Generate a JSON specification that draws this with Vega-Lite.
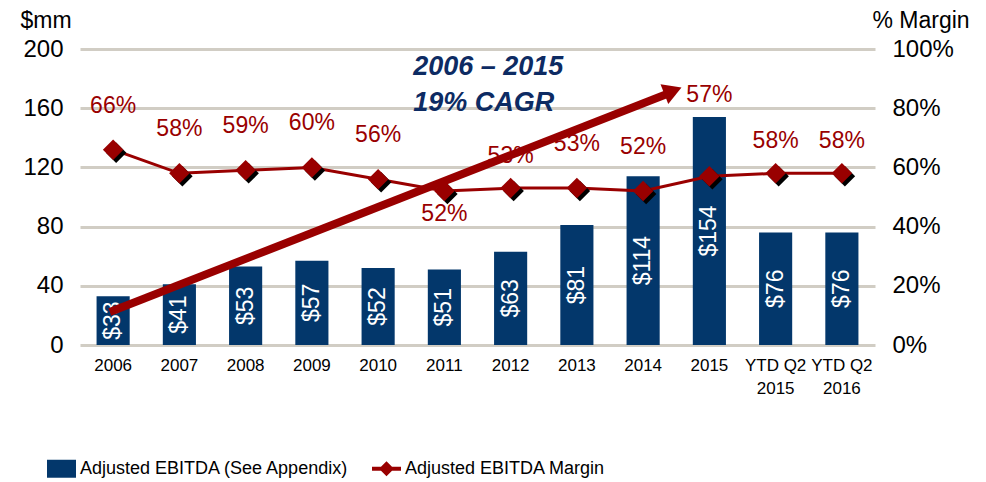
{
  "$schema": "https://vega.github.io/schema/vega-lite/v6.json",
  "width": 795,
  "height": 296,
  "autosize": {"type": "none"},
  "padding": {"left": 80, "top": 49, "right": 111, "bottom": 137},
  "background": "white",
  "config": {"view": {"stroke": null}, "font": "Liberation Sans"},
  "datasets": {
    "main": [
      {"cat": "2006", "ebitda": 33, "margin": 0.66},
      {"cat": "2007", "ebitda": 41, "margin": 0.58},
      {"cat": "2008", "ebitda": 53, "margin": 0.59},
      {"cat": "2009", "ebitda": 57, "margin": 0.60},
      {"cat": "2010", "ebitda": 52, "margin": 0.56},
      {"cat": "2011", "ebitda": 51, "margin": 0.52},
      {"cat": "2012", "ebitda": 63, "margin": 0.53},
      {"cat": "2013", "ebitda": 81, "margin": 0.53},
      {"cat": "2014", "ebitda": 114, "margin": 0.52},
      {"cat": "2015", "ebitda": 154, "margin": 0.57},
      {"cat": "YTD Q2 2015", "ebitda": 76, "margin": 0.58},
      {"cat": "YTD Q2 2016", "ebitda": 76, "margin": 0.58}
    ],
    "arrow": [
      {"ax": -0.05, "ay": 22.3},
      {"ax": 8.36, "ay": 169.6}
    ],
    "head": [
      {"ax": 8.45, "ay": 171.8}
    ],
    "cagr": [
      {"ax": 4.53, "ay": 188, "t": "2006 – 2015"},
      {"ax": 4.53, "ay": 163.5, "t": "19% CAGR"}
    ]
  },
  "layer": [
    {
      "data": {"name": "main"},
      "encoding": {
        "x": {
          "field": "cat", "type": "nominal", "sort": null,
          "scale": {"paddingInner": 0.5, "paddingOuter": 0.25},
          "axis": {
            "title": null, "domain": false, "ticks": false, "labelAngle": 0,
            "labelFontSize": 17, "labelColor": "#000000", "labelPadding": 12,
            "labelLineHeight": 23, "labelFont": "Liberation Sans",
            "labelExpr": "length(datum.value) > 4 ? ['YTD Q2', substring(datum.value, 7)] : datum.value"
          }
        }
      },
      "layer": [
        {
          "mark": {"type": "bar"},
          "encoding": {
            "y": {
              "field": "ebitda", "type": "quantitative",
              "scale": {"domain": [0, 200], "nice": false},
              "axis": {
                "orient": "left", "values": [0, 40, 80, 120, 160, 200],
                "grid": true, "gridColor": "#D1CDC4", "gridWidth": 3,
                "domain": false, "ticks": false, "labelFontSize": 24, "labelColor": "#000000",
                "labelPadding": 17, "title": "$mm", "titleAngle": 0, "titleX": -60, "titleY": -22,
                "titleAlign": "left", "titleBaseline": "alphabetic", "titleFontSize": 23,
                "titleFontWeight": "normal", "titleColor": "#000000"
              }
            },
            "color": {
              "datum": "Adjusted EBITDA (See Appendix)", "type": "nominal",
              "scale": {"domain": ["Adjusted EBITDA (See Appendix)", "Adjusted EBITDA Margin"], "range": ["#03376B", "#990000"]},
              "legend": {
                "title": null, "orient": "none", "legendX": -33, "legendY": 405,
                "direction": "horizontal", "symbolSize": 841, "symbolStrokeWidth": 0,
                "symbolOpacity": 1,
                "labelFont": "Liberation Sans", "labelFontSize": 18, "labelColor": "#000000",
                "labelOffset": 4, "columnPadding": 22, "labelLimit": 400, "padding": 0,
                "encode": {
                  "symbols": {
                    "update": {
                      "shape": {"signal": "datum.value == 'Adjusted EBITDA Margin' ? 'M-1,-0.14L-0.38,-0.14L0,-0.52L0.38,-0.14L1,-0.14L1,0.14L0.38,0.14L0,0.52L-0.38,0.14L-1,0.14Z' : 'M-1,-0.62L1,-0.62L1,0.62L-1,0.62Z'"}
                    }
                  }
                }
              }
            }
          }
        },
        {
          "mark": {"type": "text", "angle": 270, "color": "#FFFFFF", "fontSize": 23, "align": "center", "baseline": "middle"},
          "encoding": {
            "y": {"field": "ebitda", "type": "quantitative", "scale": {"domain": [0, 400], "nice": false}, "axis": null},
            "text": {"field": "ebitda", "type": "quantitative", "format": "$.0f"}
          }
        },
        {
          "mark": {"type": "line", "color": "#990000", "strokeWidth": 3},
          "encoding": {
            "y": {
              "field": "margin", "type": "quantitative",
              "scale": {"domain": [0, 1], "nice": false},
              "axis": {
                "orient": "right", "values": [0, 0.2, 0.4, 0.6, 0.8, 1], "format": ".0%",
                "grid": false, "domain": false, "ticks": false, "labelFontSize": 24, "labelColor": "#000000",
                "labelPadding": 17, "title": "% Margin", "titleAngle": 0, "titleX": -3, "titleY": -22,
                "titleAlign": "left", "titleBaseline": "alphabetic", "titleFontSize": 23,
                "titleFontWeight": "normal", "titleColor": "#000000"
              }
            }
          }
        },
        {
          "mark": {"type": "point", "shape": "diamond", "filled": true, "size": 420, "color": "#000000", "opacity": 1, "xOffset": 3, "yOffset": 3},
          "encoding": {
            "y": {"field": "margin", "type": "quantitative", "scale": {"domain": [0, 1], "nice": false}, "axis": null}
          }
        },
        {
          "mark": {"type": "point", "shape": "diamond", "filled": true, "size": 420, "color": "#990000", "opacity": 1},
          "encoding": {
            "y": {"field": "margin", "type": "quantitative", "scale": {"domain": [0, 1], "nice": false}, "axis": null}
          }
        },
        {
          "transform": [{"filter": {"field": "cat", "oneOf": ["2006", "2007", "2008", "2009", "2010", "2013", "2014"]}}],
          "mark": {"type": "text", "color": "#990000", "fontSize": 23, "baseline": "middle", "dy": -44},
          "encoding": {
            "y": {"field": "margin", "type": "quantitative", "scale": {"domain": [0, 1], "nice": false}, "axis": null},
            "text": {"field": "margin", "type": "quantitative", "format": ".0%"}
          }
        },
        {
          "transform": [{"filter": {"field": "cat", "oneOf": ["2012", "YTD Q2 2015", "YTD Q2 2016"]}}],
          "mark": {"type": "text", "color": "#990000", "fontSize": 23, "baseline": "middle", "dy": -32},
          "encoding": {
            "y": {"field": "margin", "type": "quantitative", "scale": {"domain": [0, 1], "nice": false}, "axis": null},
            "text": {"field": "margin", "type": "quantitative", "format": ".0%"}
          }
        },
        {
          "transform": [{"filter": {"field": "cat", "equal": "2011"}}],
          "mark": {"type": "text", "color": "#990000", "fontSize": 23, "baseline": "middle", "dy": 23},
          "encoding": {
            "y": {"field": "margin", "type": "quantitative", "scale": {"domain": [0, 1], "nice": false}, "axis": null},
            "text": {"field": "margin", "type": "quantitative", "format": ".0%"}
          }
        },
        {
          "transform": [{"filter": {"field": "cat", "equal": "2015"}}],
          "mark": {"type": "text", "color": "#990000", "fontSize": 23, "baseline": "middle", "dy": -81},
          "encoding": {
            "y": {"field": "margin", "type": "quantitative", "scale": {"domain": [0, 1], "nice": false}, "axis": null},
            "text": {"field": "margin", "type": "quantitative", "format": ".0%"}
          }
        }
      ],
      "resolve": {"scale": {"y": "independent"}}
    },
    {
      "layer": [
        {
          "data": {"name": "arrow"},
          "mark": {"type": "line", "color": "#990000", "strokeWidth": 8, "strokeCap": "butt"},
          "encoding": {
            "x": {"field": "ax", "type": "quantitative", "scale": {"domain": [-0.5, 11.5], "nice": false, "zero": false}, "axis": null},
            "y": {"field": "ay", "type": "quantitative", "scale": {"domain": [0, 200], "nice": false}, "axis": null}
          }
        },
        {
          "data": {"name": "head"},
          "mark": {"type": "point", "shape": "triangle-right", "filled": true, "size": 450, "angle": -21.4, "color": "#990000", "opacity": 1},
          "encoding": {
            "x": {"field": "ax", "type": "quantitative", "scale": {"domain": [-0.5, 11.5], "nice": false, "zero": false}, "axis": null},
            "y": {"field": "ay", "type": "quantitative", "scale": {"domain": [0, 200], "nice": false}, "axis": null}
          }
        },
        {
          "data": {"name": "cagr"},
          "mark": {"type": "text", "align": "left", "baseline": "middle", "fontSize": 27, "fontWeight": "bold", "fontStyle": "italic", "color": "#0D2B63"},
          "encoding": {
            "x": {"field": "ax", "type": "quantitative", "scale": {"domain": [-0.5, 11.5], "nice": false, "zero": false}, "axis": null},
            "y": {"field": "ay", "type": "quantitative", "scale": {"domain": [0, 200], "nice": false}, "axis": null},
            "text": {"field": "t", "type": "nominal"}
          }
        }
      ]
    }
  ],
  "resolve": {"scale": {"x": "independent", "y": "independent"}}
}
